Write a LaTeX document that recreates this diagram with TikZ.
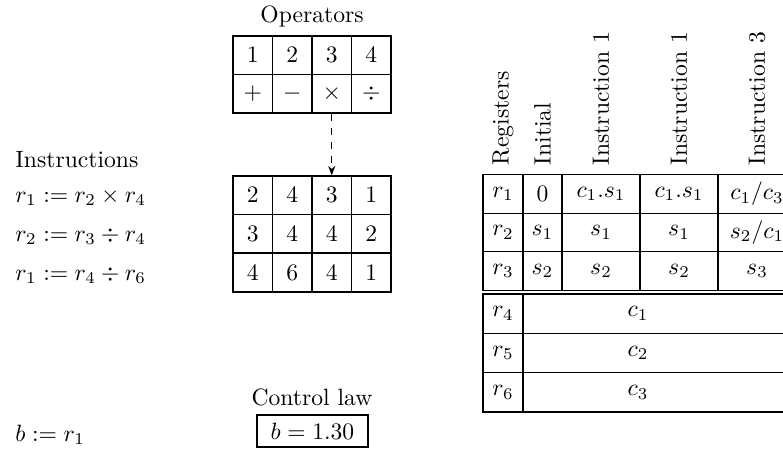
\documentclass[tikz,border=0pt]{standalone}
\usepackage{amsmath,amssymb}
\usetikzlibrary{arrows.meta, positioning}

\tikzset{
  tbl/.style={draw, line width=0.6pt, inner sep=0pt},
  opcell/.style={tbl, minimum width=16.74pt, minimum height=16.31pt},
  regcell/.style={tbl, minimum height=16.31pt},
  constcell/.style={tbl, minimum height=16.65pt},
  head/.style={rotate=90, anchor=west, inner sep=1pt},
  txt/.style={anchor=west, inner sep=0pt}
}

\begin{document}
\begin{tikzpicture}[x=0.4237pt, y=-0.4237pt]
  \useasboundingbox (0,0) rectangle (783,448);

  % Operators
  \node (opslbl) at (312,16) {Operators};
  \foreach \op [count=\c] in {+,-,\times,\div} {
    \node[opcell] (op-1-\c) at ({213.25+39.5*\c},55.25) {$\c$};
    \node[opcell] (op-2-\c) at ({213.25+39.5*\c},93.75) {$\op$};
  }

  % Program
  \foreach \a/\b/\cc/\d [count=\r] in {2/4/3/1, 3/4/4/2, 4/6/4/1} {
    \foreach \v [count=\c] in {\a,\b,\cc,\d}
      \node[opcell] (prog-\r-\c) at ({213.25+39.5*\c},{156.65+38.65*\r}) {$\v$};
  }
  \draw[dashed, line width=0.5pt, -{Stealth[length=4pt]}] (op-2-3.south) -- (prog-1-3.north);

  % Instructions
  \node[txt] (inslbl) at (15,160) {Instructions};
  \node[txt] (ins1) at (15,197) {$r_1 := r_2 \times r_4$};
  \node[txt] (ins2) at (15,236) {$r_2 := r_3 \div r_4$};
  \node[txt] (ins3) at (15,275) {$r_1 := r_4 \div r_6$};
  \node[txt] (out) at (15,435) {$b := r_1$};

  % Control law
  \node (lawlbl) at (312,397) {Control law};
  \node[tbl, minimum width=47pt, minimum height=13.6pt] (law) at (312.5,431) {$b = 1.30$};

  % Register table, headers
  \node[head] (h1) at (503,168) {Registers};
  \node[head] (h2) at (542.5,168) {Initial};
  \node[head] (h3) at (601,168) {Instruction 1};
  \node[head] (h4) at (679,168) {Instruction 1};
  \node[head] (h5) at (757,168) {Instruction 3};

  % Register table, variables
  \foreach \i/\x/\y [count=\r] in {0/c_1.s_1/c_1.s_1, s_1/s_1/s_1, s_2/s_2/s_2} {
    \node[regcell, minimum width=16.95pt] (reg-\r) at (503,{155.5+38.5*\r}) {$r_\r$};
    \node[regcell, minimum width=16.52pt] (ini-\r) at (542.5,{155.5+38.5*\r}) {$\i$};
    \node[regcell, minimum width=33.05pt] (st1-\r) at (601,{155.5+38.5*\r}) {$\x$};
    \node[regcell, minimum width=33.05pt] (st2-\r) at (679,{155.5+38.5*\r}) {$\y$};
  }
  \node[regcell, minimum width=33.05pt] (st3-1) at (757,194) {$c_1/c_3$};
  \node[regcell, minimum width=33.05pt] (st3-2) at (757,232.5) {$s_2/c_1$};
  \node[regcell, minimum width=33.05pt] (st3-3) at (757,271) {$s_3$};

  % Register table, constants
  \foreach \r in {4,5,6} {
    \node[constcell, minimum width=16.95pt] (reg-\r) at (503,{274.35+39.3*(\r-3)}) {$r_\r$};
    \node[constcell, minimum width=115.67pt] (cst-\r) at (659.5,{274.35+39.3*(\r-3)}) {};
    \node (val-\r) at (638,{274.35+39.3*(\r-3)}) {$c_{\the\numexpr\r-3\relax}$};
  }
\end{tikzpicture}
\end{document}
